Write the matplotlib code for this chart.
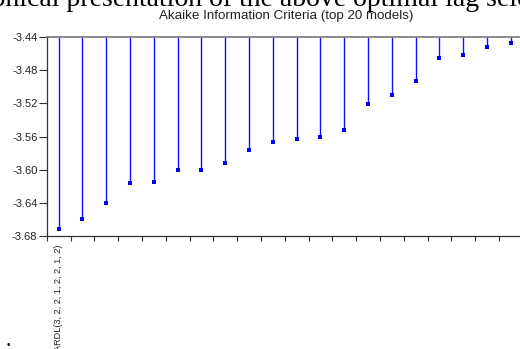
import matplotlib
matplotlib.use("Agg")
import matplotlib.pyplot as plt
import numpy as np

models = ["ARDL(3, 2, 2, 1, 2, 2, 1, 2)"] + [""] * 19
aic = [-3.671, -3.660, -3.640, -3.616, -3.615, -3.601, -3.600, -3.592,
       -3.576, -3.567, -3.563, -3.561, -3.552, -3.521, -3.510, -3.493,
       -3.465, -3.462, -3.452, -3.447]
yticks = [-3.44, -3.48, -3.52, -3.56, -3.60, -3.64, -3.68]
title = "Akaike Information Criteria (top 20 models)"
heading_pre = "Grap"
heading = "Graphical presentation of the above optimal lag selection"
visible = "hical presentation of the above optimal lag sel"

plt.rcParams['font.family'] = ['Liberation Sans', 'DejaVu Sans']

W, H = 520, 349
fig = plt.figure(figsize=(W / 100, H / 100), dpi=100)
ax = fig.add_axes([46.7 / W, 113 / H, 476 / W, 199 / H])

x = np.arange(len(aic))
ax.vlines(x, yticks[0], aic, color='#1010ff', lw=1.0)
ax.plot(x, aic, 's', color='#0000ee', ms=2.3, mew=0)

ax.set_xlim(-0.5, len(aic) - 0.5)
ax.set_ylim(yticks[-1], yticks[0])
ax.set_yticks(yticks)
ax.set_yticklabels([f"{v:.2f}" for v in yticks], fontsize=8, color='#222222')
ax.set_xticks([0])
ax.set_xticklabels([models[0]], rotation=90, fontsize=6.6, va='top', color='#222222')
ax.set_xticks(np.arange(-0.5, len(aic), 1.0), minor=True)
ax.tick_params(axis='x', which='major', length=0, pad=6.5)
ax.tick_params(axis='x', which='minor', length=3.6, width=0.8, color='#333333', direction='out')
ax.tick_params(axis='y', length=5.5, width=0.8, color='#333333', direction='out', pad=1.2)
for s in ['left', 'bottom']:
    ax.spines[s].set_color('#333333')
    ax.spines[s].set_linewidth(0.9)
ax.spines['top'].set_color('#777777')
ax.spines['top'].set_linewidth(1.2)
ax.spines['right'].set_visible(False)

fig.text(286 / W, 1 - 16 / H, title, ha='center', va='center', fontsize=9.6, color='#222222')

# heading partially cut off at the top edge: size and place it so that the
# visible part spans the width seen in the reference
renderer = fig.canvas.get_renderer()
probe = fig.text(0, 0, visible, fontsize=10, family='Liberation Serif')
w_vis = probe.get_window_extent(renderer).width
probe.remove()
fs = 10 * 512 / w_vis
probe = fig.text(0, 0, heading_pre, fontsize=fs, family='Liberation Serif')
w_pre = probe.get_window_extent(renderer).width
probe.remove()
fig.text((6 - w_pre) / W, 1 - 6.3 / H, heading, ha='left', va='baseline', fontsize=fs,
         family='Liberation Serif', color='#000000')
fig.text(8 / W, 1 - 345 / H, "\u2022", ha='center', va='center', fontsize=7)

fig.savefig("out.png", dpi=100)
